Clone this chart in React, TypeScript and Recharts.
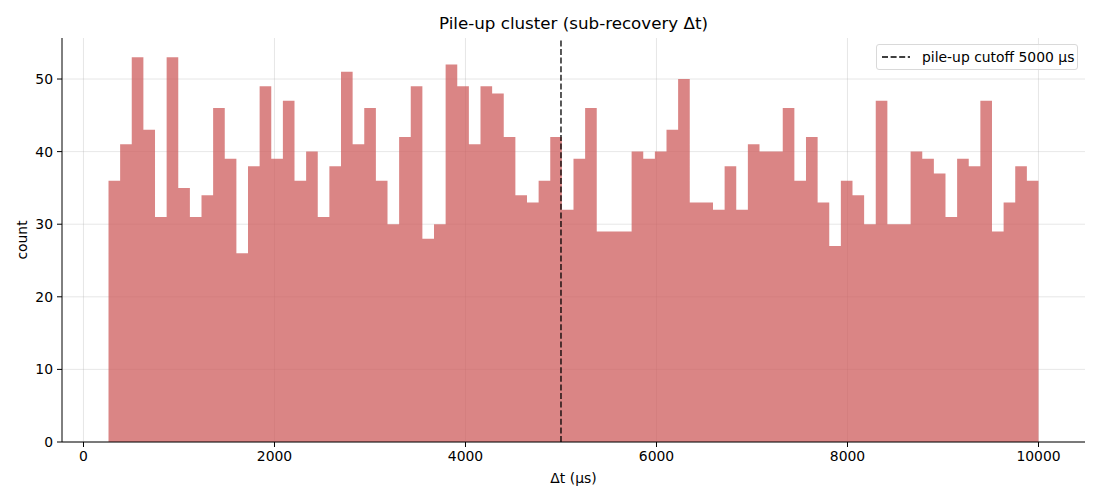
import { Area, CartesianGrid, ComposedChart, ReferenceLine, XAxis, YAxis } from "recharts"

// histogram: 80 equal bins from ~262 µs to 10000 µs
const binStart = 262
const binEnd = 10000
const counts = [
  36, 41, 53, 43, 31, 53, 35, 31, 34, 46, 39, 26, 38, 49, 39, 47, 36, 40, 31, 38,
  51, 41, 46, 36, 30, 42, 49, 28, 30, 52, 49, 41, 49, 48, 42, 34, 33, 36, 42, 32,
  39, 46, 29, 29, 29, 40, 39, 40, 43, 50, 33, 33, 32, 38, 32, 41, 40, 40, 46, 36,
  42, 33, 27, 36, 34, 30, 47, 30, 30, 40, 39, 37, 31, 39, 38, 47, 29, 33, 38, 36,
]
const xTicks = [0, 2000, 4000, 6000, 8000, 10000]
const yTicks = [0, 10, 20, 30, 40, 50]
const cutoff = 5000

const FONT = "'DejaVu Sans', sans-serif"
const binWidth = (binEnd - binStart) / counts.length

// step points: each bin's left edge, plus the closing right edge
const chartData = [
  ...counts.map((count, i) => ({ dt: binStart + i * binWidth, count })),
  { dt: binEnd, count: counts[counts.length - 1] },
]

export default function App() {
  return (
    <div style={{ position: "absolute", left: 0, top: 0, width: 1100, height: 500, background: "#fff", fontFamily: FONT }}>
      <div
        style={{
          position: "absolute",
          top: 13,
          left: 62,
          width: 1023,
          textAlign: "center",
          fontSize: 16.7,
          color: "#000",
        }}
      >
        Pile-up cluster (sub-recovery Δt)
      </div>
      <ComposedChart
        width={1100}
        height={500}
        data={chartData}
        margin={{ top: 38, right: 15, left: 0, bottom: 0 }}
      >
        <CartesianGrid
          stroke="#b0b0b0"
          strokeOpacity={0.3}
          strokeWidth={1}
          horizontalValues={yTicks}
          verticalValues={xTicks}
        />
        <XAxis
          dataKey="dt"
          type="number"
          domain={[-225, 10487]}
          ticks={xTicks}
          allowDataOverflow
          height={58}
          stroke="#000"
          tickSize={5}
          tickMargin={4}
          tick={{ fill: "#000", fontSize: 13.9, fontFamily: FONT }}
          label={{ value: "Δt (µs)", position: "insideBottom", offset: 17, fill: "#000", fontSize: 13.9, fontFamily: FONT }}
        />
        <YAxis
          type="number"
          domain={[0, 55.65]}
          ticks={yTicks}
          allowDataOverflow
          width={62}
          stroke="#000"
          tickSize={5}
          tickMargin={4}
          tick={{ fill: "#000", fontSize: 13.9, fontFamily: FONT }}
          label={{
            value: "count",
            content: ({ viewBox }: any) => (
              <text
                x={22}
                y={viewBox.y + viewBox.height / 2}
                transform={`rotate(-90 22 ${viewBox.y + viewBox.height / 2})`}
                textAnchor="middle"
                dominantBaseline="central"
                fill="#000"
                fontSize={13.9}
                fontFamily={FONT}
              >
                count
              </text>
            ),
          }}
        />
        <Area
          type="stepAfter"
          dataKey="count"
          stroke="none"
          fill="#cd5c5c"
          fillOpacity={0.75}
          isAnimationActive={false}
        />
        <ReferenceLine x={cutoff} stroke="#000" strokeWidth={1.3} strokeDasharray="6 2.6" />
      </ComposedChart>
      <div
        style={{
          position: "absolute",
          left: 876,
          top: 44,
          width: 200,
          height: 24,
          border: "1px solid #d9d9d9",
          borderRadius: 3,
          background: "rgba(255,255,255,0.8)",
          display: "flex",
          alignItems: "center",
          fontSize: 13.9,
          color: "#000",
        }}
      >
        <svg width={45} height={10} style={{ flex: "none" }}>
          <line x1={5} y1={5} x2={33} y2={5} stroke="#000" strokeWidth={1.3} strokeDasharray="6 2.6" />
        </svg>
        <span>pile-up cutoff {cutoff} µs</span>
      </div>
    </div>
  )
}
